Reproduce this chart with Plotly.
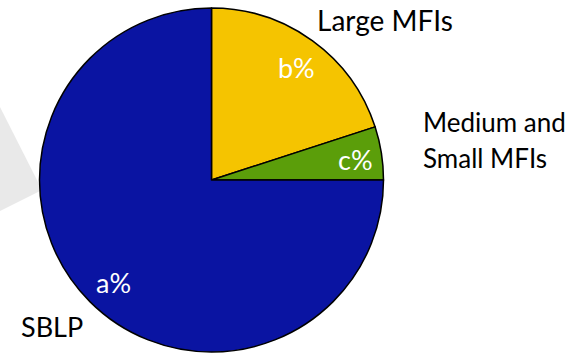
import plotly.graph_objects as go

W, H = 576, 355

labels = ["Large MFIs", "Medium and Small MFIs", "SBLP"]
values = [20, 5, 75]
inside_text = ["b%", "c%", "a%"]
colors = ["#F5C400", "#5B9E0A", "#0A14A2"]

def px(x, y):
    return x / W, 1 - y / H

cx, cy, r = 211.5, 180, 172

fig = go.Figure(go.Pie(
    labels=labels, values=values, sort=False, direction="clockwise", rotation=0,
    marker=dict(colors=colors, line=dict(color="black", width=1.5)),
    textinfo="none", hoverinfo="label", showlegend=False,
    domain=dict(x=[(cx - r) / W, (cx + r) / W], y=[(H - cy - r) / H, (H - cy + r) / H]),
))

# faint grey background triangle on the left
p = [px(0, 107), px(42, 190), px(0, 211)]
fig.add_shape(type="path", xref="paper", yref="paper", layer="below",
              path=f"M {p[0][0]} {p[0][1]} L {p[1][0]} {p[1][1]} L {p[2][0]} {p[2][1]} Z",
              fillcolor="#E9E9E9", line=dict(width=0))

font = "Lato, 'Open Sans', sans-serif"
def ann(text, x, y, color, xanchor="center", size=27):
    ax, ay = px(x, y)
    fig.add_annotation(text=text, x=ax, y=ay, xref="paper", yref="paper",
                       showarrow=False, xanchor=xanchor, yanchor="middle",
                       font=dict(family=font, size=size, color=color))

ann(inside_text[0], 296, 68, "white")
ann(inside_text[1], 355, 159, "white")
ann(inside_text[2], 113, 282, "white")
ann("Large MFIs", 385, 20, "black", size=28)
ann("Medium and", 421, 122, "black", xanchor="left", size=26)
ann("Small MFIs", 421, 158, "black", xanchor="left", size=26)
ann("SBLP", 52, 326, "black")

fig.update_layout(width=W, height=H, margin=dict(l=0, r=0, t=0, b=0),
                  paper_bgcolor="white", plot_bgcolor="white")
fig.write_html("out.html")
